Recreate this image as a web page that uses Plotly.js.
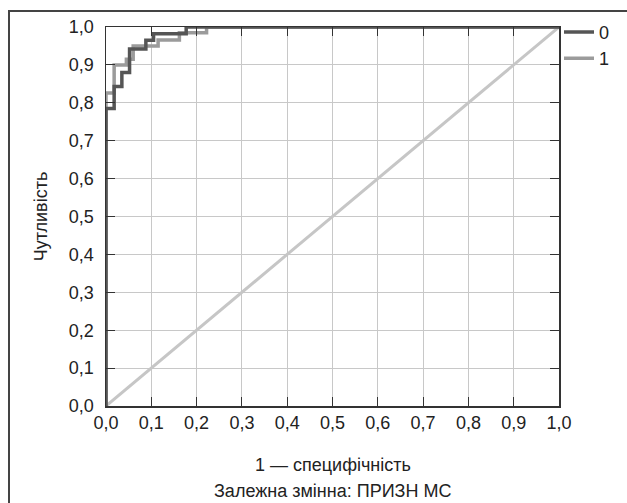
<!DOCTYPE html>
<html>
<head>
<meta charset="utf-8">
<script src="https://cdn.plot.ly/plotly-3.0.1.min.js"></script>
<style>
html,body{margin:0;padding:0;background:#fff;}
#wrap{position:relative;width:627px;height:503px;overflow:hidden;}
#frame{position:absolute;left:8px;top:10px;width:640px;height:520px;border-top:2px solid #444;border-left:2px solid #444;pointer-events:none;}
#chart{position:absolute;left:0;top:0;width:627px;height:503px;}
</style>
</head>
<body>
<div id="wrap"><div id="chart"></div><div id="frame"></div></div>
<script>
// ROC curve for group "0"
const fpr0 = [0, 0, 0.018, 0.018, 0.035, 0.035, 0.052, 0.052, 0.088, 0.088, 0.105, 0.105, 0.177, 0.177, 1];
const tpr0 = [0, 0.785, 0.785, 0.843, 0.843, 0.880, 0.880, 0.942, 0.942, 0.965, 0.965, 0.982, 0.982, 1, 1];
// ROC curve for group "1"
const fpr1 = [0, 0, 0.018, 0.018, 0.045, 0.045, 0.060, 0.060, 0.115, 0.115, 0.162, 0.162, 0.222, 0.222, 1];
const tpr1 = [0, 0.826, 0.826, 0.900, 0.900, 0.915, 0.915, 0.950, 0.950, 0.966, 0.966, 0.985, 0.985, 1, 1];
// reference diagonal
const diagX = [0, 1];
const diagY = [0, 1];
const seriesNames = ["0", "1"];
const tickVals = [0, 0.1, 0.2, 0.3, 0.4, 0.5, 0.6, 0.7, 0.8, 0.9, 1.0];

const font = {family: "Liberation Sans, Arial, sans-serif", size: 18, color: "#222"};

const traces = [
  {x: diagX, y: diagY, mode: "lines", line: {color: "#c6c6c6", width: 3}, showlegend: false, hoverinfo: "skip"},
  {x: fpr1, y: tpr1, mode: "lines", name: seriesNames[1], line: {color: "#9b9b9b", width: 3.5}, legendrank: 2},
  {x: fpr0, y: tpr0, mode: "lines", name: seriesNames[0], line: {color: "#555555", width: 3.5}, legendrank: 1}
];

const axisCommon = {
  range: [0, 1],
  tickvals: tickVals,
  tickformat: ".1f",
  ticks: "inside",
  ticklen: 9,
  tickwidth: 1,
  tickcolor: "#333",
  showline: true,
  mirror: "ticks",
  linecolor: "#333",
  linewidth: 1.5,
  showgrid: true,
  gridcolor: "#c8c8c8",
  gridwidth: 1,
  zeroline: false,
  tickfont: font,
  fixedrange: true
};

const layout = {
  width: 627,
  height: 503,
  margin: {l: 106, r: 66, t: 27, b: 97},
  paper_bgcolor: "#fff",
  plot_bgcolor: "#fff",
  separators: ",.",
  font: font,
  showlegend: true,
  legend: {x: 1.0, xanchor: "left", y: 1.035, yanchor: "top", font: font, itemwidth: 30, tracegroupgap: 0, bgcolor: "rgba(0,0,0,0)"},
  xaxis: Object.assign({}, axisCommon, {title: {text: ""}}),
  yaxis: Object.assign({}, axisCommon, {title: {text: "Чутливість", font: font, standoff: 16}, ticklabelstandoff: 7}),
  annotations: [
    {text: "1 — специфічність", xref: "paper", yref: "paper", x: 0.5, y: -0.155, xanchor: "center", yanchor: "middle", showarrow: false, font: font},
    {text: "Залежна змінна: ПРИЗН МС", xref: "paper", yref: "paper", x: 0.5, y: -0.225, xanchor: "center", yanchor: "middle", showarrow: false, font: font}
  ]
};

Plotly.newPlot("chart", traces, layout, {displayModeBar: false, staticPlot: true});
</script>
</body>
</html>
